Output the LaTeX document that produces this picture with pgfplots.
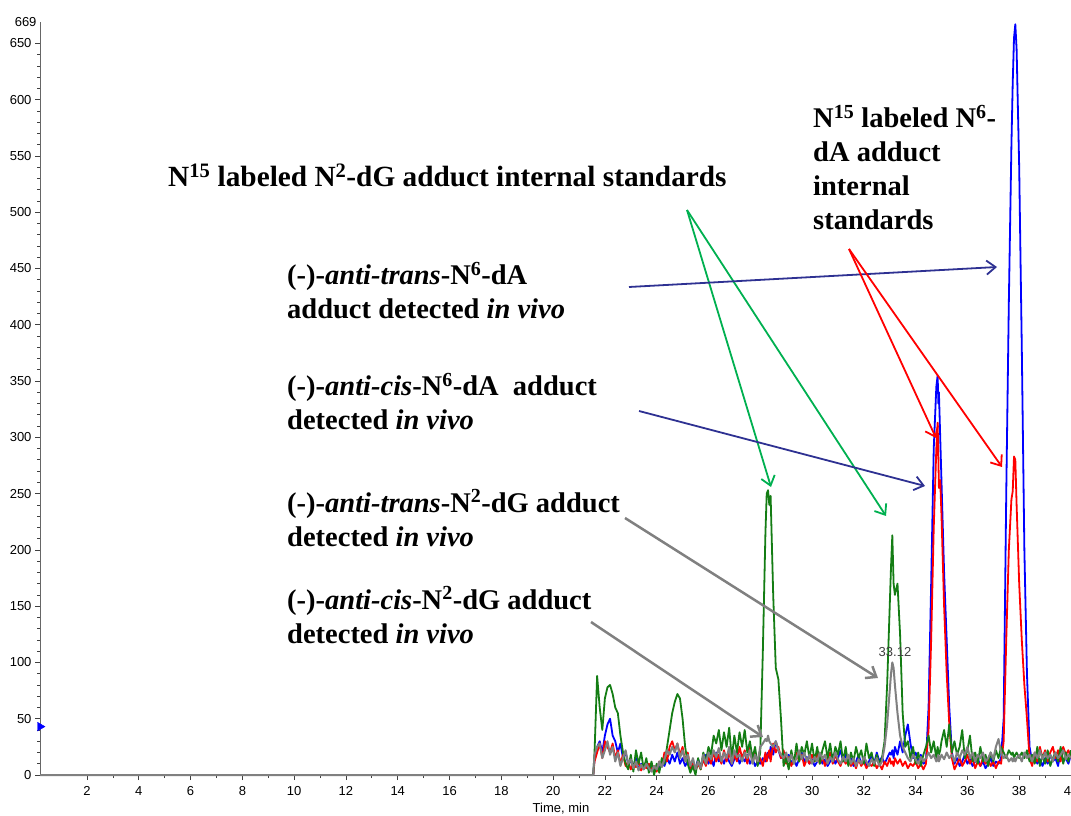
\documentclass[border=0pt]{standalone}
\usepackage{pgfplots}
\pgfplotsset{compat=1.18}
\usepackage{pgfplotstable}
\usepackage{fontspec}
\setmainfont{Liberation Serif}
\newfontfamily\arial{Liberation Sans}
\usetikzlibrary{arrows.meta}
\definecolor{cgreen}{RGB}{20,125,20}
\definecolor{agreen}{RGB}{0,176,80}
\definecolor{anavy}{RGB}{46,49,146}
\definecolor{cgray}{RGB}{128,128,128}

\pgfplotstableread{
t b r g y
0.185 0 0 0 0
21.55 0 0 0 0
21.6 15 12 20 18
21.7 25 20 88 25
21.8 30 28 60 28
21.9 20 15 40 15
22.0 35 30 68 22
22.1 45 25 78 30
22.2 50 20 80 18
22.3 35 28 72 25
22.4 30 15 60 12
22.5 20 22 55 20
22.6 28 10 35 8
22.7 15 18 20 15
22.8 20 8 10 22
22.9 10 12 5 10
23.0 12 5 18 14
23.1 8 10 3 6
23.2 15 7 22 12
23.3 5 12 10 4
23.4 10 4 20 9
23.5 6 9 5 5
23.6 12 6 15 10
23.7 4 10 2 6
23.8 9 5 12 3
23.9 3 8 0 8
24.0 8 3 10 5
24.1 5 12 2 12
24.2 12 8 15 7
24.3 8 20 10 14
24.4 15 12 25 22
24.5 10 25 40 18
24.6 18 30 55 25
24.7 12 22 65 20
24.8 20 28 72 28
24.9 10 18 68 15
25.0 15 25 50 22
25.1 8 12 25 12
25.2 12 20 10 18
25.3 5 6 2 8
25.4 10 12 8 15
25.5 6 4 0 5
25.6 14 10 15 12
25.7 8 5 5 6
25.8 12 14 20 18
25.9 18 8 12 10
26.0 10 16 25 20
26.1 15 10 18 14
26.2 8 20 35 22
26.3 20 12 28 16
26.4 12 18 40 24
26.5 16 10 22 12
26.6 10 22 38 20
26.7 18 12 25 15
26.8 12 20 42 25
26.9 8 10 15 10
27.0 14 18 35 22
27.1 20 12 20 16
27.2 10 25 38 18
27.3 16 15 25 12
27.4 12 22 40 20
27.5 18 10 20 15
27.6 10 25 30 22
27.7 15 12 15 10
27.8 8 20 25 18
27.9 12 10 8 12
28.0 10 15 20 25
28.1 15 8 110 28
28.2 12 20 215 32
28.25 18 12 250 30
28.3 20 18 253 35
28.35 15 22 240 30
28.4 25 12 248 28
28.5 18 28 160 25
28.6 30 20 95 30
28.7 22 25 85 22
28.8 15 15 50 18
28.9 20 22 8 15
29.0 12 10 15 20
29.1 18 16 5 12
29.2 10 8 22 18
29.3 15 14 10 10
29.4 8 20 28 15
29.5 14 12 12 22
29.6 20 18 25 14
29.7 12 8 18 20
29.8 16 14 30 12
29.9 10 10 15 18
30.0 14 18 28 10
30.1 8 12 12 16
30.2 12 20 25 12
30.3 18 10 10 20
30.4 10 16 22 14
30.5 14 8 30 18
30.6 8 14 15 10
30.7 12 20 28 16
30.8 18 10 12 12
30.9 10 18 25 20
31.0 15 12 18 14
31.1 22 8 30 10
31.2 12 15 12 16
31.3 18 10 25 12
31.4 10 14 8 18
31.5 15 8 20 10
31.6 8 12 12 15
31.7 12 6 25 8
31.8 18 14 15 14
31.9 10 8 22 10
32.0 14 12 10 16
32.1 8 6 28 12
32.2 12 10 15 8
32.3 18 8 20 14
32.4 10 12 8 10
32.5 20 6 18 15
32.6 12 10 10 8
32.7 16 5 15 12
32.8 10 12 30 25
32.9 15 8 80 45
33.0 20 15 150 75
33.05 18 10 185 90
33.1 22 12 213 100
33.15 15 8 170 95
33.2 25 15 160 80
33.3 18 10 170 55
33.4 30 14 125 35
33.5 20 8 55 25
33.6 35 12 25 20
33.7 45 6 30 15
33.8 28 10 15 12
33.9 15 8 25 18
34.0 20 12 10 14
34.1 12 6 20 10
34.2 18 10 8 16
34.3 10 5 18 12
34.4 12 10 25 15
34.5 60 40 35 20
34.6 170 120 20 15
34.7 290 220 30 18
34.8 345 290 15 12
34.85 355 313 25 15
34.88 330 280 20 18
34.9 340 255 18 12
34.95 300 262 22 15
35.0 260 230 30 18
35.1 180 150 40 14
35.2 120 90 25 20
35.3 60 45 45 15
35.4 20 15 20 18
35.5 10 5 30 12
35.6 15 10 18 20
35.7 8 15 25 15
35.8 12 8 40 22
35.9 18 12 15 18
36.0 10 18 22 25
36.1 14 10 35 15
36.2 8 15 12 20
36.3 12 6 20 12
36.4 15 12 10 18
36.5 8 8 25 15
36.6 12 15 12 20
36.7 6 10 18 12
36.8 10 14 8 15
36.9 15 8 20 20
37.0 8 12 12 14
37.1 12 6 22 25
37.2 10 12 15 32
37.3 15 10 25 20
37.4 50 30 20 15
37.5 250 120 15 18
37.6 420 200 22 12
37.7 560 245 18 15
37.75 615 252 20 12
37.8 655 283 15 15
37.85 667 280 18 12
37.9 645 240 20 15
38.0 540 170 15 18
38.1 380 120 20 12
38.2 200 80 15 20
38.3 90 50 22 15
38.4 25 15 12 18
38.5 12 8 18 12
38.6 18 20 10 20
38.7 10 12 25 15
38.8 14 25 8 22
38.9 8 15 18 14
39.0 15 22 10 20
39.1 10 12 22 15
39.2 18 20 8 18
39.3 12 25 15 12
39.4 15 15 20 20
39.5 8 22 12 15
39.6 20 12 25 18
39.7 12 25 10 22
39.8 15 18 20 14
39.9 10 22 12 18
40.0 18 15 22 15
}\data

\begin{document}
\begin{tikzpicture}
\path[use as bounding box] (0,0) rectangle (1071pt,815pt);
\begin{axis}[
  at={(40pt,40pt)}, anchor=south west,
  scale only axis, width=1031pt, height=753pt,
  xmin=0.185, xmax=40, ymin=0, ymax=669,
  axis lines=left, axis line style={-, draw=black!60, line width=0.9pt},
  xtick={2,4,...,40}, ytick={0,50,...,650},
  extra y ticks={669}, extra y tick style={major tick length=0pt},
  minor x tick num=1, minor y tick num=4,
  tick align=outside, major tick length=5pt, minor tick length=3pt,
  tick style={black!75, line width=0.7pt},
  ticklabel style={font=\arial\fontsize{13}{13}\selectfont},
  x tick label style={yshift=-3pt},
  /pgf/number format/assume math mode=true,
  clip=false,
]
\addplot[blue, line width=1.8pt, no marks, line join=round] table[x=t, y=b] {\data};
\addplot[red, line width=1.8pt, no marks, line join=round] table[x=t, y=r] {\data};
\addplot[cgreen, line width=1.8pt, no marks, line join=round] table[x=t, y=g] {\data};
\addplot[cgray, line width=2pt, no marks, line join=round] table[x=t, y=y] {\data};
\addplot[only marks, blue, mark=triangle*, mark size=5pt, mark options={rotate=-90, fill=blue}] coordinates {(0.185,43)};
\end{axis}

\node[font=\arial\fontsize{13}{13}\selectfont, anchor=base] at (561pt,3pt) {Time, min};
\node[font=\arial\fontsize{13}{13}\selectfont, text=black!75] at (895pt,163pt) {33.12};

\begin{scope}[every node/.style={anchor=base west, inner sep=0pt, font=\fontsize{28.5}{34}\selectfont\bfseries}]
\node[font=\fontsize{29.3}{34}\selectfont\bfseries] at (168pt,628pt) {N\textsuperscript{15} labeled N\textsuperscript{2}-dG adduct internal standards};
\node at (287pt,530pt) {(-)-\textit{anti-trans}-N\textsuperscript{6}-dA};
\node at (287pt,496pt) {adduct detected \textit{in vivo}};
\node at (287pt,419pt) {(-)-\textit{anti-cis}-N\textsuperscript{6}-dA\ \ adduct};
\node at (287pt,385pt) {detected \textit{in vivo}};
\node at (287pt,303pt) {(-)-\textit{anti-trans}-N\textsuperscript{2}-dG adduct};
\node at (287pt,269pt) {detected \textit{in vivo}};
\node at (287pt,206pt) {(-)-\textit{anti-cis}-N\textsuperscript{2}-dG adduct};
\node at (287pt,172pt) {detected \textit{in vivo}};
\node at (813pt,687pt) {N\textsuperscript{15} labeled N\textsuperscript{6}-};
\node at (813pt,653pt) {dA adduct};
\node at (813pt,619pt) {internal};
\node at (813pt,585pt) {standards};
\end{scope}

\begin{scope}[line width=1.8pt, -{Straight Barb[length=9pt,width=14pt]}]
\draw[agreen] (687pt,605pt) -- (771pt,328pt);
\draw[agreen] (687pt,605pt) -- (886pt,299pt);
\draw[anavy] (629pt,528pt) -- (997pt,548pt);
\draw[anavy] (639pt,404pt) -- (925pt,329pt);
\draw[red] (849pt,566pt) -- (936pt,377pt);
\draw[red] (849pt,566pt) -- (1002pt,348pt);
\draw[cgray, line width=2.5pt] (625pt,297pt) -- (878pt,137pt);
\draw[cgray, line width=2.5pt] (591pt,193pt) -- (763pt,78pt);
\end{scope}
\end{tikzpicture}
\end{document}
